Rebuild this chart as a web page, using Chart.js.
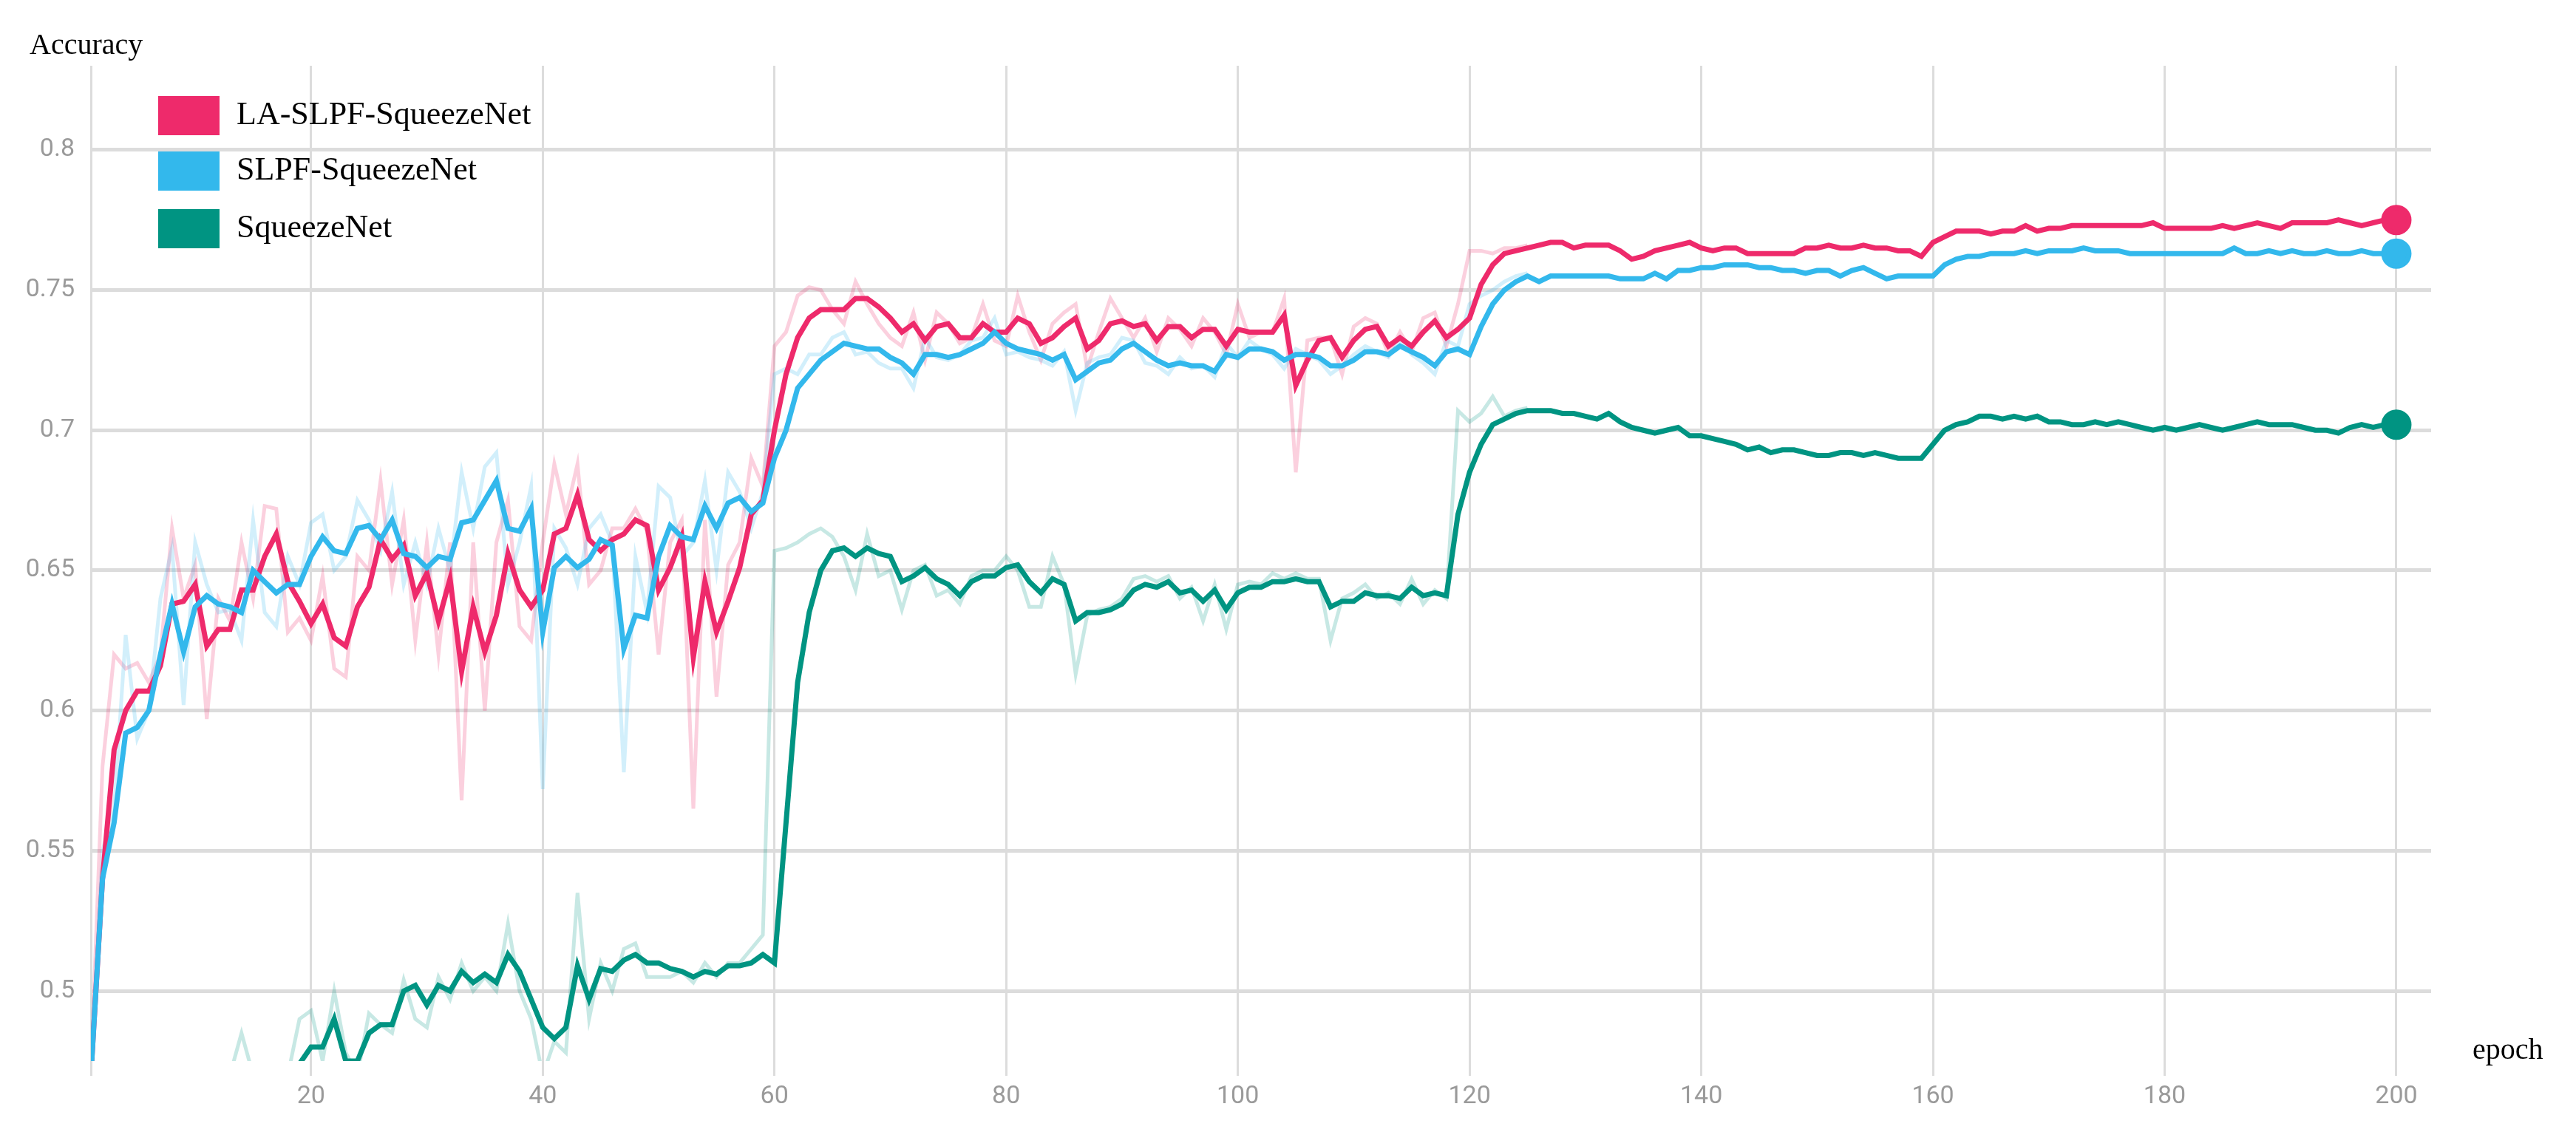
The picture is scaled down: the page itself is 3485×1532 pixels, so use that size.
<!DOCTYPE html>
<html>
<head>
<meta charset="utf-8">
<script src="https://cdn.jsdelivr.net/npm/chart.js@4.4.1/dist/chart.umd.min.js"></script>
<style>
  body { margin: 0; background: #fff; }
  #wrap { position: relative; width: 3485px; height: 1532px; }
  .lbl { position: absolute; font-family: "Liberation Serif", serif; font-size: 40px; color: #000; white-space: nowrap; }
  .leg { font-size: 44px; }
  .box { position: absolute; width: 83px; height: 53px; }
</style>
</head>
<body>
<div id="wrap">
  <canvas id="chart" width="3485" height="1532"></canvas>
  <div class="lbl" style="left:40px; top:36px;">Accuracy</div>
  <div class="lbl" style="left:3345px; top:1396px;">epoch</div>
  <div class="box" style="left:214px; top:130px; background:#ee2a6b;"></div>
  <div class="lbl leg" style="left:320px; top:128px;">LA-SLPF-SqueezeNet</div>
  <div class="box" style="left:214px; top:205px; background:#33b8ec;"></div>
  <div class="lbl leg" style="left:320px; top:203px;">SLPF-SqueezeNet</div>
  <div class="box" style="left:214px; top:283px; background:#009482;"></div>
  <div class="lbl leg" style="left:320px; top:281px;">SqueezeNet</div>
</div>
<script>
const epochs = Array.from({length: 200}, (_, i) => i + 1);
const xTicks = [1, 20, 40, 60, 80, 100, 120, 140, 160, 180, 200];
const yTicks = [0.5, 0.55, 0.6, 0.65, 0.7, 0.75, 0.8];

// smoothed curves
const laSlpf = [
0.47,0.54,0.586,0.60,0.607,0.607,0.616,0.638,0.639,0.645,0.623,0.629,0.629,0.643,0.643,0.655,0.663,0.646,0.639,0.631,
0.638,0.626,0.623,0.637,0.644,0.661,0.654,0.659,0.641,0.649,0.632,0.647,0.614,0.637,0.621,0.634,0.656,0.643,0.637,0.643,
0.663,0.665,0.677,0.661,0.657,0.661,0.663,0.668,0.666,0.643,0.651,0.662,0.619,0.646,0.628,0.639,0.651,0.67,0.675,0.70,
0.72,0.733,0.740,0.743,0.743,0.743,0.747,0.747,0.744,0.740,0.735,0.738,0.732,0.737,0.738,0.733,0.733,0.738,0.735,0.735,
0.74,0.738,0.731,0.733,0.737,0.74,0.729,0.732,0.738,0.739,0.737,0.738,0.732,0.737,0.737,0.733,0.736,0.736,0.73,0.736,
0.735,0.735,0.735,0.741,0.716,0.725,0.732,0.733,0.726,0.732,0.736,0.737,0.73,0.733,0.73,0.735,0.739,0.733,0.736,0.74,
0.752,0.759,0.763,0.764,0.765,0.766,0.767,0.767,0.765,0.766,0.766,0.766,0.764,0.761,0.762,0.764,0.765,0.766,0.767,0.765,
0.764,0.765,0.765,0.763,0.763,0.763,0.763,0.763,0.765,0.765,0.766,0.765,0.765,0.766,0.765,0.765,0.764,0.764,0.762,0.767,
0.769,0.771,0.771,0.771,0.77,0.771,0.771,0.773,0.771,0.772,0.772,0.773,0.773,0.773,0.773,0.773,0.773,0.773,0.774,0.772,
0.772,0.772,0.772,0.772,0.773,0.772,0.773,0.774,0.773,0.772,0.774,0.774,0.774,0.774,0.775,0.774,0.773,0.774,0.775,0.775];
const slpf = [
0.47,0.54,0.56,0.592,0.594,0.60,0.62,0.638,0.621,0.637,0.641,0.638,0.637,0.635,0.65,0.646,0.642,0.645,0.645,0.655,
0.662,0.657,0.656,0.665,0.666,0.661,0.668,0.656,0.655,0.651,0.655,0.654,0.667,0.668,0.675,0.682,0.665,0.664,0.672,0.628,
0.651,0.655,0.651,0.654,0.661,0.659,0.622,0.634,0.633,0.655,0.666,0.662,0.661,0.673,0.665,0.674,0.676,0.671,0.674,0.69,
0.70,0.715,0.72,0.725,0.728,0.731,0.73,0.729,0.729,0.726,0.724,0.72,0.727,0.727,0.726,0.727,0.729,0.731,0.735,0.731,
0.729,0.728,0.727,0.725,0.727,0.718,0.721,0.724,0.725,0.729,0.731,0.728,0.725,0.723,0.724,0.723,0.723,0.721,0.727,0.726,
0.729,0.729,0.728,0.725,0.727,0.727,0.726,0.723,0.723,0.725,0.728,0.728,0.727,0.73,0.728,0.726,0.723,0.728,0.729,0.727,
0.737,0.745,0.75,0.753,0.755,0.753,0.755,0.755,0.755,0.755,0.755,0.755,0.754,0.754,0.754,0.756,0.754,0.757,0.757,0.758,
0.758,0.759,0.759,0.759,0.758,0.758,0.757,0.757,0.756,0.757,0.757,0.755,0.757,0.758,0.756,0.754,0.755,0.755,0.755,0.755,
0.759,0.761,0.762,0.762,0.763,0.763,0.763,0.764,0.763,0.764,0.764,0.764,0.765,0.764,0.764,0.764,0.763,0.763,0.763,0.763,
0.763,0.763,0.763,0.763,0.763,0.765,0.763,0.763,0.764,0.763,0.764,0.763,0.763,0.764,0.763,0.763,0.764,0.763,0.763,0.763];
const squeeze = [
0.44,0.445,0.45,0.45,0.452,0.455,0.457,0.458,0.46,0.462,0.463,0.464,0.466,0.468,0.469,0.468,0.469,0.47,0.474,0.48,
0.48,0.49,0.475,0.475,0.485,0.488,0.488,0.50,0.502,0.495,0.502,0.50,0.507,0.503,0.506,0.503,0.513,0.507,0.497,0.487,
0.483,0.487,0.509,0.497,0.508,0.507,0.511,0.513,0.51,0.51,0.508,0.507,0.505,0.507,0.506,0.509,0.509,0.51,0.513,0.51,
0.56,0.61,0.635,0.65,0.657,0.658,0.655,0.658,0.656,0.655,0.646,0.648,0.651,0.647,0.645,0.641,0.646,0.648,0.648,0.651,
0.652,0.646,0.642,0.647,0.645,0.632,0.635,0.635,0.636,0.638,0.643,0.645,0.644,0.646,0.642,0.643,0.639,0.643,0.636,0.642,
0.644,0.644,0.646,0.646,0.647,0.646,0.646,0.637,0.639,0.639,0.642,0.641,0.641,0.64,0.644,0.641,0.642,0.641,0.67,0.685,
0.695,0.702,0.704,0.706,0.707,0.707,0.707,0.706,0.706,0.705,0.704,0.706,0.703,0.701,0.70,0.699,0.70,0.701,0.698,0.698,
0.697,0.696,0.695,0.693,0.694,0.692,0.693,0.693,0.692,0.691,0.691,0.692,0.692,0.691,0.692,0.691,0.69,0.69,0.69,0.695,
0.70,0.702,0.703,0.705,0.705,0.704,0.705,0.704,0.705,0.703,0.703,0.702,0.702,0.703,0.702,0.703,0.702,0.701,0.70,0.701,
0.70,0.701,0.702,0.701,0.70,0.701,0.702,0.703,0.702,0.702,0.702,0.701,0.70,0.70,0.699,0.701,0.702,0.701,0.702,0.702];

// raw (faint) curves, epochs 1-125
const laSlpfRaw = [
0.47,0.58,0.62,0.615,0.617,0.61,0.62,0.665,0.64,0.652,0.597,0.64,0.632,0.66,0.64,0.673,0.672,0.628,0.633,0.625,
0.648,0.615,0.612,0.655,0.65,0.682,0.645,0.668,0.625,0.66,0.62,0.66,0.568,0.66,0.60,0.66,0.675,0.63,0.625,0.66,
0.688,0.67,0.688,0.645,0.65,0.665,0.665,0.672,0.664,0.62,0.66,0.668,0.565,0.668,0.605,0.652,0.66,0.69,0.68,0.73,
0.735,0.748,0.751,0.75,0.743,0.738,0.753,0.745,0.738,0.733,0.73,0.742,0.725,0.742,0.738,0.731,0.733,0.745,0.732,0.73,
0.748,0.735,0.725,0.738,0.742,0.745,0.722,0.735,0.747,0.74,0.733,0.74,0.728,0.74,0.736,0.73,0.74,0.735,0.727,0.745,
0.733,0.735,0.735,0.747,0.685,0.732,0.733,0.733,0.72,0.737,0.74,0.738,0.727,0.735,0.728,0.74,0.742,0.73,0.745,0.764,
0.764,0.763,0.765,0.765,0.766];
const slpfRaw = [
0.47,0.55,0.565,0.627,0.59,0.60,0.64,0.658,0.602,0.66,0.645,0.635,0.636,0.625,0.668,0.635,0.63,0.655,0.645,0.667,
0.67,0.65,0.655,0.675,0.668,0.657,0.678,0.645,0.66,0.645,0.665,0.65,0.685,0.665,0.687,0.692,0.645,0.66,0.68,0.572,
0.665,0.658,0.645,0.665,0.67,0.66,0.578,0.655,0.635,0.68,0.676,0.655,0.66,0.682,0.65,0.685,0.678,0.665,0.678,0.72,
0.722,0.72,0.727,0.727,0.733,0.735,0.727,0.728,0.724,0.722,0.722,0.715,0.733,0.726,0.725,0.727,0.732,0.733,0.74,0.727,
0.728,0.726,0.725,0.723,0.728,0.707,0.724,0.726,0.727,0.733,0.732,0.724,0.723,0.72,0.726,0.722,0.723,0.719,0.731,0.726,
0.732,0.729,0.727,0.722,0.729,0.727,0.725,0.72,0.723,0.727,0.73,0.728,0.726,0.732,0.727,0.724,0.72,0.732,0.73,0.745,
0.748,0.75,0.753,0.755,0.756];
const squeezeRaw = [
0.44,0.445,0.45,0.45,0.455,0.455,0.46,0.46,0.46,0.465,0.465,0.465,0.47,0.485,0.47,0.465,0.47,0.47,0.49,0.493,
0.475,0.50,0.478,0.47,0.492,0.488,0.485,0.504,0.49,0.487,0.505,0.497,0.51,0.50,0.505,0.50,0.524,0.50,0.49,0.47,
0.482,0.478,0.535,0.49,0.51,0.50,0.515,0.517,0.505,0.505,0.505,0.507,0.503,0.51,0.505,0.51,0.51,0.515,0.52,0.657,
0.658,0.66,0.663,0.665,0.662,0.655,0.643,0.663,0.648,0.65,0.636,0.65,0.652,0.641,0.643,0.638,0.648,0.65,0.65,0.655,
0.65,0.637,0.637,0.655,0.645,0.613,0.634,0.636,0.637,0.64,0.647,0.648,0.646,0.648,0.64,0.644,0.632,0.645,0.629,0.645,
0.646,0.645,0.649,0.647,0.649,0.647,0.647,0.625,0.64,0.642,0.645,0.64,0.642,0.638,0.647,0.638,0.643,0.64,0.707,0.703,
0.706,0.712,0.705,0.707,0.708];

const pink = '#ee2a6b', blue = '#33b8ec', green = '#009482';
const pts = arr => arr.map((v, i) => ({x: epochs[i], y: v}));
const last = (arr, c) => arr.map((_, i) => i === arr.length - 1 ? c : 0);

function smooth(label, arr, color) {
  return { label, data: pts(arr), borderColor: color, backgroundColor: color, borderWidth: 7,
    pointRadius: last(arr, 17), pointHoverRadius: 0, tension: 0, order: 1 };
}
function raw(arr, color) {
  return { label: '', data: pts(arr), borderColor: color + '38', borderWidth: 5,
    pointRadius: 0, tension: 0, order: 2 };
}

new Chart(document.getElementById('chart'), {
  type: 'line',
  data: {
    datasets: [
      raw(squeezeRaw, green), raw(slpfRaw, blue), raw(laSlpfRaw, pink),
      smooth('SqueezeNet', squeeze, green),
      smooth('SLPF-SqueezeNet', slpf, blue),
      smooth('LA-SLPF-SqueezeNet', laSlpf, pink)
    ]
  },
  options: {
    responsive: false,
    animation: false,
    devicePixelRatio: 1,
    layout: { padding: { top: 89, right: 196, left: 0, bottom: 0 } },
    plugins: { legend: { display: false }, tooltip: { enabled: false } },
    scales: {
      x: {
        type: 'linear', min: 1, max: 203,
        afterBuildTicks: s => { s.ticks = xTicks.map(v => ({value: v})); },
        afterFit: s => { s.height = 96; },
        border: { display: false },
        grid: { color: '#dcdcdc', lineWidth: 3, tickLength: 20 },
        ticks: { font: { family: 'Roboto', size: 34 }, color: '#9a9a9a', padding: 8,
          callback: v => v === 1 ? '' : v }
      },
      y: {
        min: 0.475, max: 0.83,
        afterBuildTicks: s => { s.ticks = yTicks.map(v => ({value: v})); },
        afterFit: s => { s.width = 123; },
        border: { display: false },
        grid: { color: '#dcdcdc', lineWidth: 5, drawTicks: false },
        ticks: { font: { family: 'Roboto', size: 34 }, color: '#9a9a9a', padding: 22,
          callback: v => String(+v.toFixed(2)) }
      }
    }
  }
});
</script>
</body>
</html>
